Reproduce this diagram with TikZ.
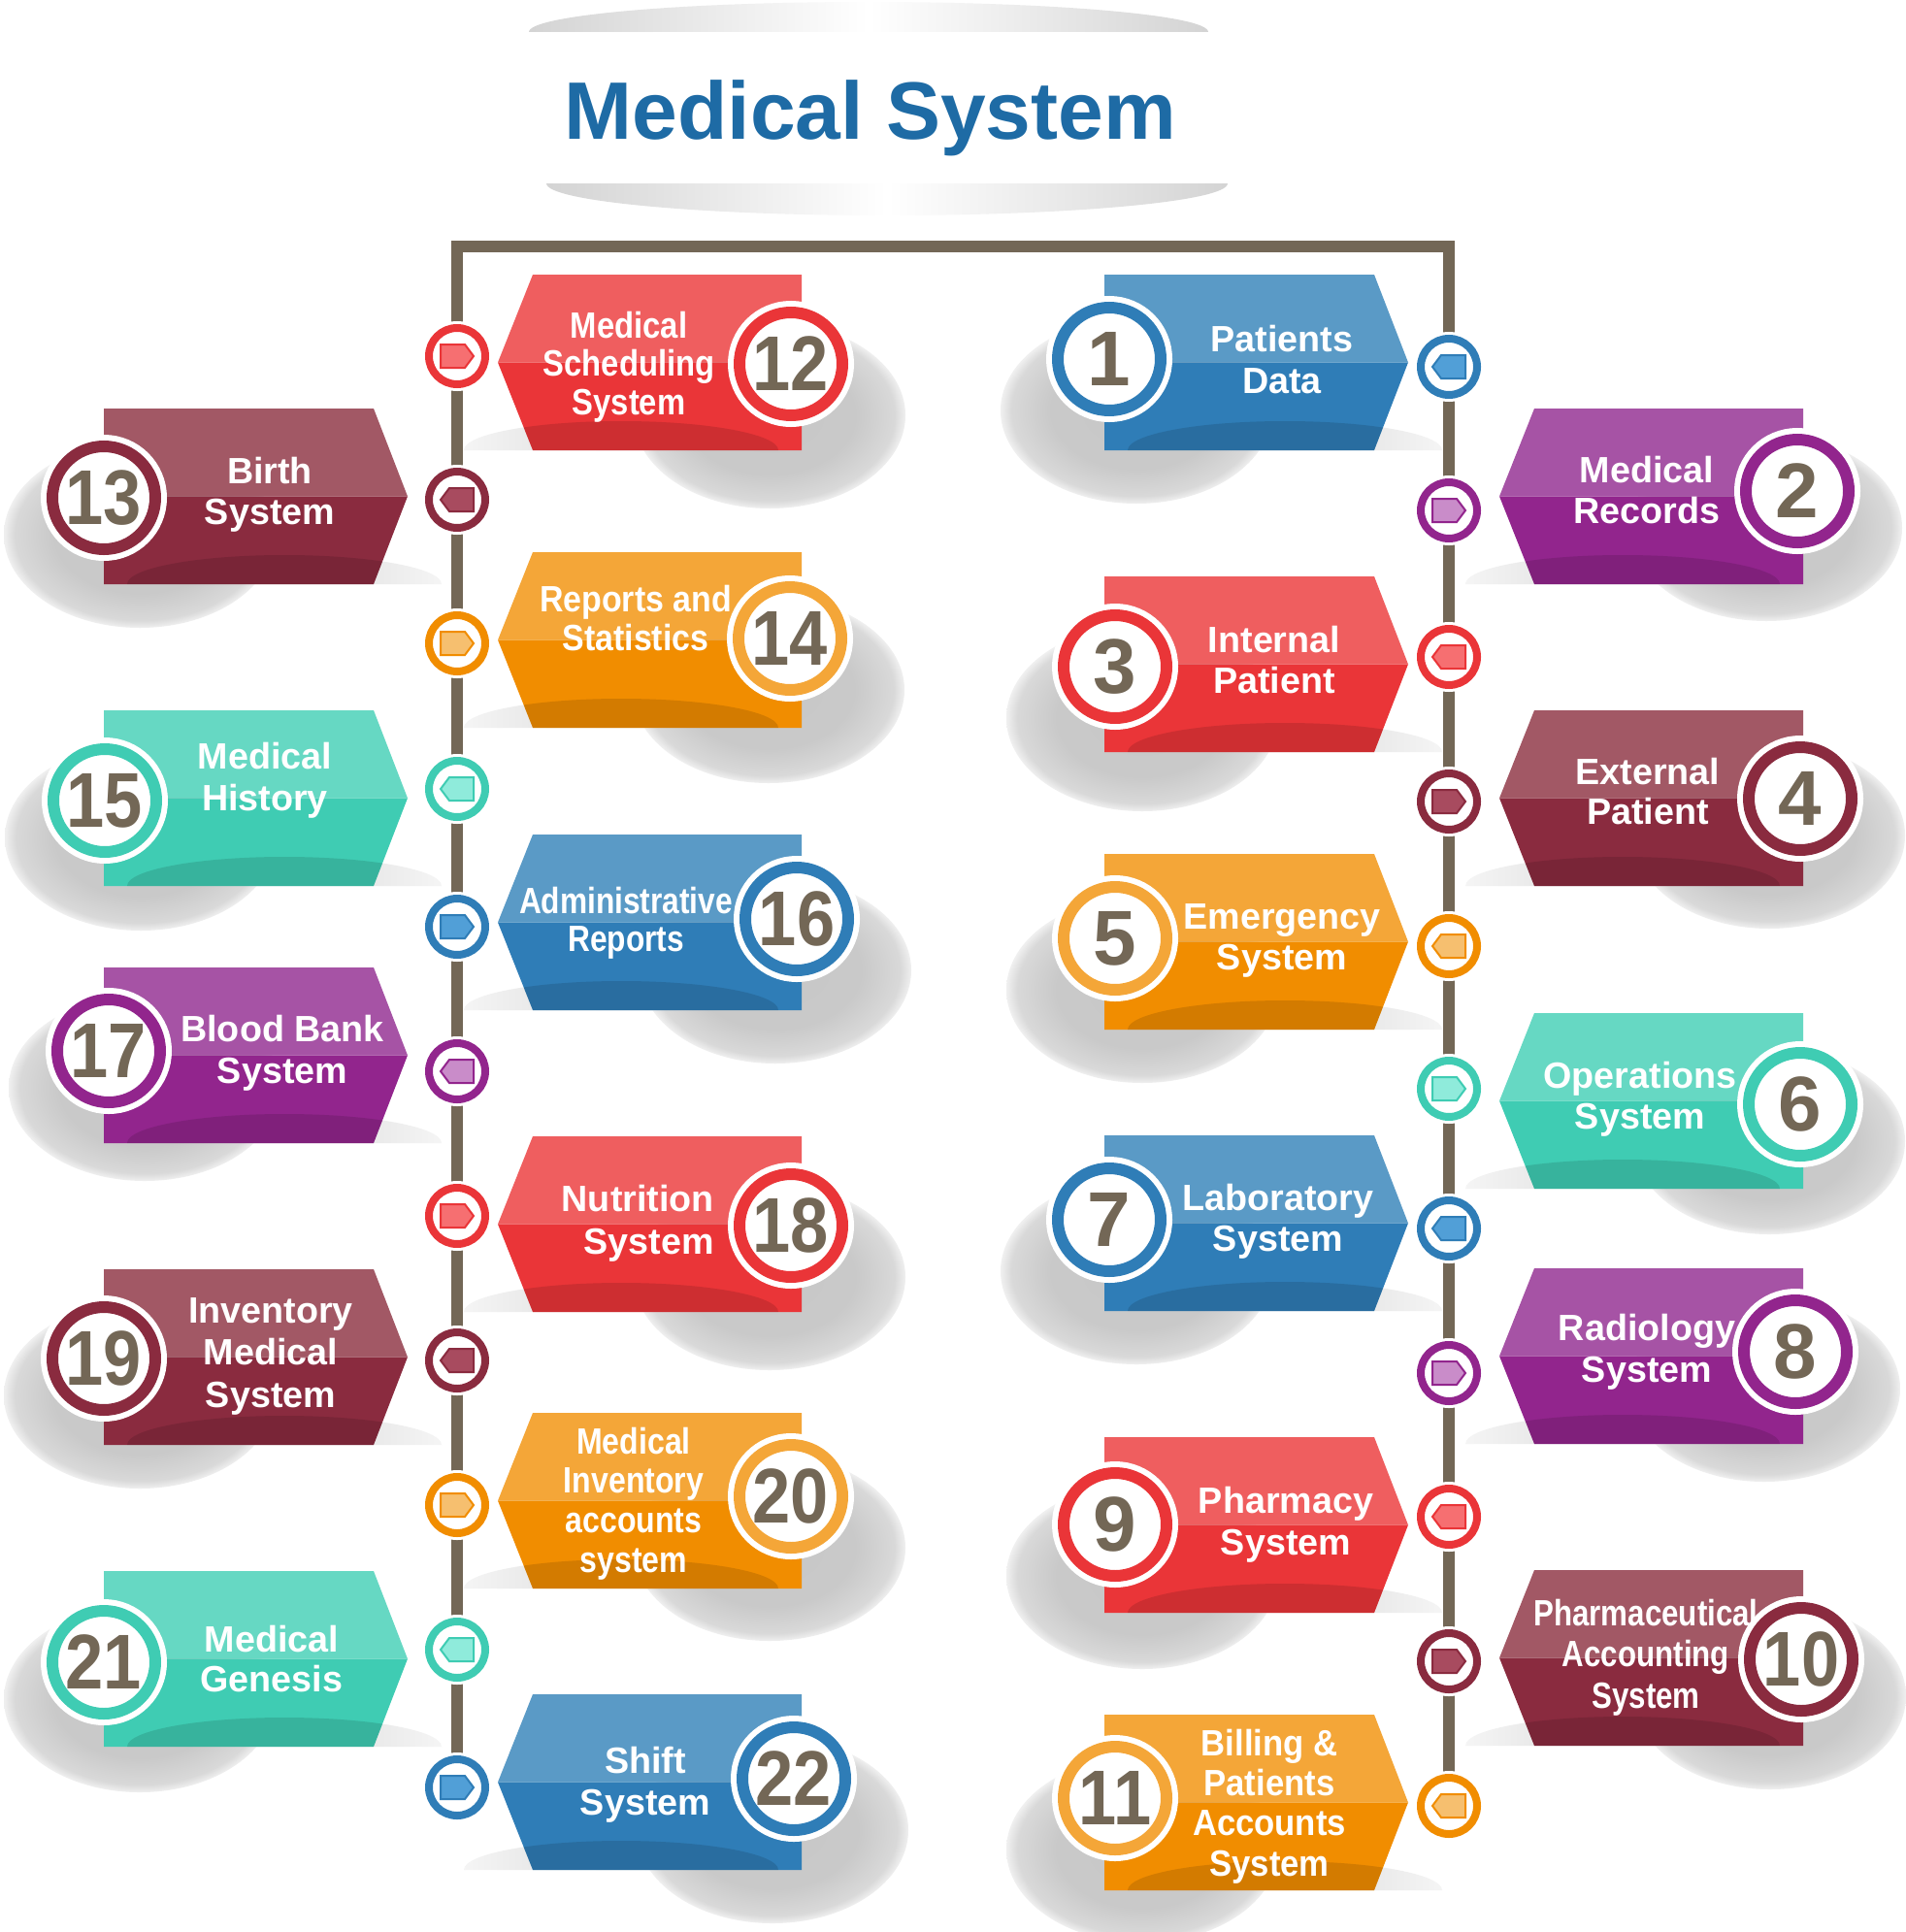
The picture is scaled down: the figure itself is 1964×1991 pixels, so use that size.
\documentclass[tikz,border=0pt]{standalone}
\usepackage{fontspec}
\usepackage{graphicx}
\setmainfont{Liberation Sans}

% colour families: A = upper half, B = lower half, T = tag, R = number ring
\definecolor{redA}{HTML}{EF5E5F}  \definecolor{redB}{HTML}{EA3538}
\definecolor{redT}{HTML}{F66F71}  \definecolor{redR}{HTML}{EA3538}
\definecolor{marA}{HTML}{A25865}  \definecolor{marB}{HTML}{8A2B3F}
\definecolor{marT}{HTML}{A84B5F}  \definecolor{marR}{HTML}{8A2B3F}
\definecolor{oraA}{HTML}{F4A638}  \definecolor{oraB}{HTML}{F18D00}
\definecolor{oraT}{HTML}{F6BF6F}  \definecolor{oraR}{HTML}{F4A638}
\definecolor{tealA}{HTML}{66D8C3} \definecolor{tealB}{HTML}{3FCCB3}
\definecolor{tealT}{HTML}{8FEBDB} \definecolor{tealR}{HTML}{3FCCB3}
\definecolor{bluA}{HTML}{5A9AC6}  \definecolor{bluB}{HTML}{2F7DB7}
\definecolor{bluT}{HTML}{519FD7}  \definecolor{bluR}{HTML}{2F7DB7}
\definecolor{purA}{HTML}{A653A5}  \definecolor{purB}{HTML}{92258D}
\definecolor{purT}{HTML}{C98CC9}  \definecolor{purR}{HTML}{92258D}
\definecolor{numgray}{HTML}{736756}
\definecolor{titleblue}{HTML}{1E6BA5}

\pgfdeclarelayer{shade}
\pgfdeclarelayer{frame}
\pgfsetlayers{shade,frame,main}

% soft grey ball under each number
\pgfdeclareradialshading{shadowball}{\pgfpoint{0bp}{0bp}}{%
  color(0bp)=(black!22); color(16bp)=(black!21); color(23bp)=(black!15);
  color(25bp)=(black!6); color(50bp)=(black!6)}

\newcommand{\lblfont}[1]{\fontsize{37.7pt}{#1pt}\selectfont\bfseries}
\newcommand{\twodig}[1]{\scalebox{0.88}[1]{#1}}

% banner with the point on the left: #1 tip x, #2 top y, #3 colour family
\newcommand{\bannerL}[3]{%
  \begin{pgfonlayer}{shade}
    \shade[left color=black!4, right color=black!24]
      ({#1-35},{#2+181}) arc[start angle=180, end angle=0, x radius=162pt, y radius=30pt] -- cycle;
  \end{pgfonlayer}
  \fill[#3A] ({#1},{#2+90.5}) -- ({#1+36},#2) -- ({#1+313},#2) -- ({#1+313},{#2+90.5}) -- cycle;
  \fill[#3B] ({#1},{#2+90.5}) -- ({#1+313},{#2+90.5}) -- ({#1+313},{#2+181}) -- ({#1+36},{#2+181}) -- cycle;
  \begin{scope}
    \clip ({#1},{#2+90.5}) -- ({#1+36},#2) -- ({#1+313},#2) -- ({#1+313},{#2+181}) -- ({#1+36},{#2+181}) -- cycle;
    \fill[black, opacity=.12]
      ({#1-35},{#2+181}) arc[start angle=180, end angle=0, x radius=162pt, y radius=30pt] -- cycle;
  \end{scope}
}

% banner with the point on the right: #1 left x, #2 top y, #3 colour family
\newcommand{\bannerR}[3]{%
  \begin{pgfonlayer}{shade}
    \shade[left color=black!24, right color=black!4]
      ({#1+24},{#2+181}) arc[start angle=180, end angle=0, x radius=162pt, y radius=30pt] -- cycle;
  \end{pgfonlayer}
  \fill[#3A] ({#1},#2) -- ({#1+278},#2) -- ({#1+313},{#2+90.5}) -- ({#1},{#2+90.5}) -- cycle;
  \fill[#3B] ({#1},{#2+90.5}) -- ({#1+313},{#2+90.5}) -- ({#1+278},{#2+181}) -- ({#1},{#2+181}) -- cycle;
  \begin{scope}
    \clip ({#1},#2) -- ({#1+278},#2) -- ({#1+313},{#2+90.5}) -- ({#1+278},{#2+181}) -- ({#1},{#2+181}) -- cycle;
    \fill[black, opacity=.12]
      ({#1+24},{#2+181}) arc[start angle=180, end angle=0, x radius=162pt, y radius=30pt] -- cycle;
  \end{scope}
}

% number ring: #1 name, #2 x, #3 y, #4 colour family, #5 number, #6/#7 shadow shift
\newcommand{\numcircle}[7]{%
  \begin{pgfonlayer}{shade}
    \shade[shading=shadowball] ({#2+#6},{#3+#7}) ellipse [x radius=140pt, y radius=96pt];
  \end{pgfonlayer}
  \node[numring=#4R] (#1) at (#2,#3) {#5};
}

% small ring on the frame: #1 name, #2 x, #3 y, #4 colour family, #5 tag direction
\newcommand{\conn}[5]{%
  \node[connring=#4B] (#1) at (#2,#3) {};
  \filldraw[fill=#4T, draw=#4B, line width=2pt, shift={(#1.center)}, xscale=#5]
    (-17,-12) -- (8,-12) -- (17,0) -- (8,12) -- (-17,12) -- cycle;
}

\begin{document}
\begin{tikzpicture}[x=1pt, y=-1pt,
    numring/.style={circle, minimum size=106pt, inner sep=0pt, line width=12pt,
      draw=#1, fill=white, preaction={draw=white, line width=24pt},
      text=numgray, font=\fontsize{80pt}{80pt}\selectfont\bfseries},
    connring/.style={circle, minimum size=58pt, inner sep=0pt, line width=8pt,
      draw=#1, fill=white, preaction={draw=white, line width=14pt}},
    lbl/.style={text=white, align=center, inner sep=0pt, anchor=north},
    frameline/.style={line width=12pt, draw=numgray, line join=miter},
    titletext/.style={text=titleblue, inner sep=0pt, anchor=base,
      font=\fontsize{84pt}{84pt}\selectfont\bfseries}]

    \begin{pgfonlayer}{shade}
      \fill[white] (0,0) rectangle (1964,1991);
    \end{pgfonlayer}
    \useasboundingbox (0,0) rectangle (1964,1991);

    % 1. Title between two grey caps
    \shade[left color=black!17, right color=black!17, middle color=white]
      (545,33) arc[start angle=180, end angle=0, x radius=350pt, y radius=31pt] -- cycle;
    \shade[left color=black!17, right color=black!17, middle color=white]
      (563,189) arc[start angle=180, end angle=360, x radius=351pt, y radius=33pt] -- cycle;
    \node[titletext] (title) at (897,143) {Medical System};

    % 2. Inner left column (12 - 22)
    \bannerL{513}{283}{red}
    \numcircle{r12}{815}{375}{red}{\twodig{12}}{-22}{53}
    \node[lbl, xscale=.87, font=\lblfont{39.5}] (t12) at (648,{348-.7*39.5}) {\strut Medical\\Scheduling\\System};
    \conn{c12}{471}{367}{red}{1}

    \bannerL{513}{569}{ora}
    \numcircle{r14}{814}{658}{ora}{\twodig{14}}{-22}{53}
    \node[lbl, xscale=.9, font=\lblfont{39}] (t14) at (655,{630-.7*39}) {\strut Reports and\\Statistics};
    \conn{c14}{471}{663}{ora}{1}

    \bannerL{513}{860}{blu}
    \numcircle{r16}{821}{947}{blu}{\twodig{16}}{-22}{53}
    \node[lbl, xscale=.84, font=\lblfont{39}] (t16) at (645,{941-.7*39}) {\strut Administrative\\Reports};
    \conn{c16}{471}{955}{blu}{1}

    \bannerL{513}{1171}{red}
    \numcircle{r18}{815}{1263}{red}{\twodig{18}}{-22}{53}
    \node[lbl, anchor=north east, align=right, font=\lblfont{44}] (t18) at (736,{1248-.7*44}) {\strut Nutrition\\System};
    \conn{c18}{471}{1253}{red}{1}

    \bannerL{513}{1456}{ora}
    \numcircle{r20}{815}{1542}{ora}{\twodig{20}}{-22}{53}
    \node[lbl, xscale=.85, font=\lblfont{40.7}] (t20) at (653,{1498-.7*40.7}) {\strut Medical\\Inventory\\accounts\\system};
    \conn{c20}{471}{1551}{ora}{1}

    \bannerL{513}{1746}{blu}
    \numcircle{r22}{818}{1833}{blu}{\twodig{22}}{-22}{53}
    \node[lbl, font=\lblfont{43}] (t22) at (665,{1827-.7*43}) {\strut Shift\\System};
    \conn{c22}{471}{1842}{blu}{1}

    % 3. Outer left column (13 - 21)
    \bannerR{107}{421}{mar}
    \numcircle{r13}{107}{513}{mar}{\twodig{13}}{37}{38}
    \node[lbl, font=\lblfont{42}] (t13) at (278,{498-.7*42}) {\strut Birth\\System};
    \conn{c13}{471}{515}{mar}{-1}

    \bannerR{107}{732}{teal}
    \numcircle{r15}{108}{825}{teal}{\twodig{15}}{37}{38}
    \node[lbl, font=\lblfont{43}] (t15) at (273,{792-.7*43}) {\strut Medical\\History};
    \conn{c15}{471}{813}{teal}{-1}

    \bannerR{107}{997}{pur}
    \numcircle{r17}{112}{1083}{pur}{\twodig{17}}{37}{38}
    \node[lbl, font=\lblfont{43}] (t17) at (291,{1073-.7*43}) {\strut Blood Bank\\System};
    \conn{c17}{471}{1104}{pur}{-1}

    \bannerR{107}{1308}{mar}
    \numcircle{r19}{107}{1400}{mar}{\twodig{19}}{37}{38}
    \node[lbl, font=\lblfont{43.5}] (t19) at (279,{1363-.7*43.5}) {\strut Inventory\\Medical\\System};
    \conn{c19}{471}{1402}{mar}{-1}

    \bannerR{107}{1619}{teal}
    \numcircle{r21}{107}{1713}{teal}{\twodig{21}}{37}{38}
    \node[lbl, font=\lblfont{41}] (t21) at (280,{1702-.7*41}) {\strut Medical\\Genesis};
    \conn{c21}{471}{1700}{teal}{-1}

    % 4. Inner right column (1 - 11)
    \bannerR{1138}{283}{blu}
    \numcircle{r1}{1143}{370}{blu}{1}{28}{53}
    \node[lbl, font=\lblfont{43}] (t1) at (1321,{362-.7*43}) {\strut Patients\\Data};
    \conn{c1}{1493}{378}{blu}{-1}

    \bannerR{1138}{594}{red}
    \numcircle{r3}{1149}{687}{red}{3}{28}{53}
    \node[lbl, font=\lblfont{42}] (t3) at (1313,{672-.7*42}) {\strut Internal\\Patient};
    \conn{c3}{1493}{677}{red}{-1}

    \bannerR{1138}{880}{ora}
    \numcircle{r5}{1149}{967}{ora}{5}{28}{53}
    \node[lbl, font=\lblfont{42}] (t5) at (1321,{957-.7*42}) {\strut Emergency\\System};
    \conn{c5}{1493}{975}{ora}{-1}

    \bannerR{1138}{1170}{blu}
    \numcircle{r7}{1143}{1257}{blu}{7}{28}{53}
    \node[lbl, font=\lblfont{42}] (t7) at (1317,{1247-.7*42}) {\strut Laboratory\\System};
    \conn{c7}{1493}{1266}{blu}{-1}

    \bannerR{1138}{1481}{red}
    \numcircle{r9}{1149}{1571}{red}{9}{28}{53}
    \node[lbl, font=\lblfont{43}] (t9) at (1325,{1559-.7*43}) {\strut Pharmacy\\System};
    \conn{c9}{1493}{1563}{red}{-1}

    \bannerR{1138}{1767}{ora}
    \numcircle{r11}{1149}{1853}{ora}{\twodig{11}}{28}{53}
    \node[lbl, xscale=.92, font=\lblfont{41.3}] (t11) at (1308,{1809-.7*41.3}) {\strut Billing \&\\Patients\\Accounts\\System};
    \conn{c11}{1493}{1861}{ora}{-1}

    % 5. Outer right column (2 - 10)
    \bannerL{1545}{421}{pur}
    \numcircle{r2}{1852}{506}{pur}{2}{-32}{38}
    \node[lbl, font=\lblfont{42}] (t2) at (1697,{497-.7*42}) {\strut Medical\\Records};
    \conn{c2}{1493}{526}{pur}{1}

    \bannerL{1545}{732}{mar}
    \numcircle{r4}{1855}{823}{mar}{4}{-32}{38}
    \node[lbl, font=\lblfont{41}] (t4) at (1698,{808-.7*41}) {\strut External\\Patient};
    \conn{c4}{1493}{826}{mar}{1}

    \bannerL{1545}{1044}{teal}
    \numcircle{r6}{1855}{1138}{teal}{6}{-32}{38}
    \node[lbl, font=\lblfont{42}] (t6) at (1690,{1121-.7*42}) {\strut Operations\\System};
    \conn{c6}{1493}{1122}{teal}{1}

    \bannerL{1545}{1307}{pur}
    \numcircle{r8}{1850}{1393}{pur}{8}{-32}{38}
    \node[lbl, font=\lblfont{43}] (t8) at (1697,{1381-.7*43}) {\strut Radiology\\System};
    \conn{c8}{1493}{1415}{pur}{1}

    \bannerL{1545}{1618}{mar}
    \numcircle{r10}{1856}{1710}{mar}{\twodig{10}}{-32}{38}
    \node[lbl, xscale=.83, font=\lblfont{42.5}] (t10) at (1696,{1675-.7*42.5}) {\strut Pharmaceutical\\Accounting\\System};
    \conn{c10}{1493}{1712}{mar}{1}

    % 6. Frame joining the two rows of rings
    \coordinate (topL) at (471,254);
    \coordinate (topR) at (1493,254);
    \begin{pgfonlayer}{frame}
      \draw[frameline] (c22.center) -- (topL) -- (topR) -- (c11.center);
    \end{pgfonlayer}

\end{tikzpicture}
\end{document}
